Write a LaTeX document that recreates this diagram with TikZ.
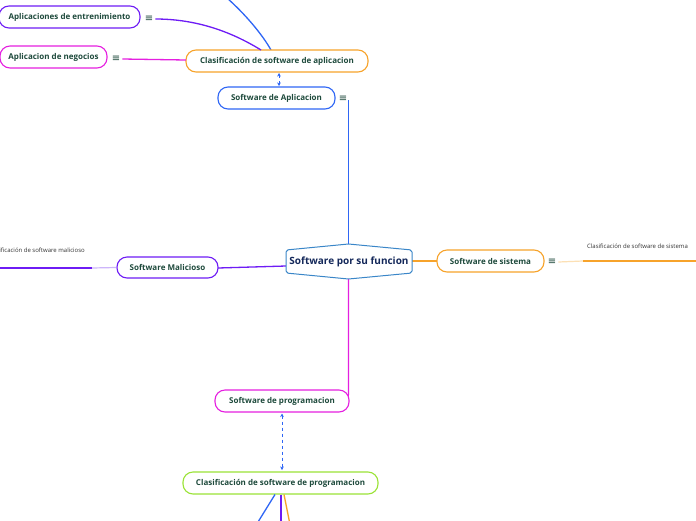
\documentclass[tikz,border=0pt]{standalone}
\usepackage{fontspec}
\setmainfont{Open Sans}
\newfontfamily\symfont{DejaVu Sans}
\usetikzlibrary{arrows.meta}
\definecolor{txtc}{HTML}{1E4A3C}
\definecolor{navy}{HTML}{14285A}
\definecolor{cblue}{HTML}{2F66F5}
\definecolor{lblue}{HTML}{8FB0FF}
\definecolor{corange}{HTML}{F7A32B}
\definecolor{lorange}{HTML}{FCE0B5}
\definecolor{cpurple}{HTML}{6E1CF5}
\definecolor{lpurple}{HTML}{CDB5FA}
\definecolor{cmagenta}{HTML}{E51FE0}
\definecolor{clime}{HTML}{9BE337}
\definecolor{cenblue}{HTML}{3A86C8}
\tikzset{
  topic/.style={draw, line width=1.1pt, rounded corners=10pt, fill=white, text=txtc,
    font=\fontsize{8}{9}\selectfont\bfseries, inner sep=0pt, minimum height=22pt},
  menuicon/.style={text=txtc, font=\symfont\fontsize{10}{10}\selectfont, inner sep=0pt},
  conn/.style={line width=1.3pt},
  dasharrow/.style={draw=cblue, dashed, line width=0.8pt, {Stealth[length=3.5pt,width=3.5pt]}-{Stealth[length=3.5pt,width=3.5pt]}},
  smalllabel/.style={font=\fontsize{6}{7}\selectfont, text=black!80, inner sep=0pt}
}
\begin{document}
\begin{tikzpicture}[x=1pt,y=-1pt]
\useasboundingbox (0,0) rectangle (696,520);
\fill[white] (0,0) rectangle (696,520);

% coordinates
\coordinate (ctop) at (348.5,244);
\coordinate (cbot) at (348.5,279);
\coordinate (cleft) at (286,266);
\coordinate (cright) at (412,261);

% connectors (drawn first)
\draw[conn, cblue] (ctop) -- (348.5,112) -- (348.5,100);
\draw[conn, cblue] (227,-2) .. controls (245,14) and (262,34) .. (271,50);
\draw[conn, cmagenta] (cbot) -- (348.5,392) .. controls (348.5,396) .. (346,399);
\draw[conn, cpurple] (cleft) -- (218,268);
\draw[conn, corange] (cright) -- (437,261);

% central node
\draw[cenblue, line width=1pt, fill=white, rounded corners=2pt]
  (286,250) -- (348.5,244) -- (412,250) -- (412,273) -- (348.5,279) -- (286,273) -- cycle;
\node[text=navy, font=\fontsize{10}{11}\selectfont\bfseries] (central) at (349,261.5) {Software por su funcion};

% topics
\node[topic, draw=cblue, minimum width=117pt] (app) at (276.5,98) {Software de Aplicacion};
\node[topic, draw=corange, minimum width=182pt] (clasapp) at (277,61) {Clasificación de software de aplicacion};
\node[topic, draw=cpurple, minimum width=141pt] (ent) at (69.5,17) {Aplicaciones de entrenimiento};
\node[topic, draw=cmagenta, minimum width=107pt] (neg) at (53.5,57) {Aplicacion de negocios};
\node[topic, draw=cpurple, minimum width=101pt, minimum height=21pt] (mal) at (167.5,267.5) {Software Malicioso};
\node[topic, draw=corange, minimum width=107pt] (sis) at (490.5,261) {Software de sistema};
\node[topic, draw=cmagenta, minimum width=134pt] (prog) at (282,401) {Software de programacion};
\node[topic, draw=clime, minimum width=195pt] (clasprog) at (280.5,483) {Clasificación de software de programacion};

% menu icons
\node[menuicon] (appicon) at (343,99) {≡};
\node[menuicon] (enticon) at (149,19) {≡};
\node[menuicon] (negicon) at (116,59) {≡};
\node[menuicon] (sisicon) at (552,262) {≡};

% icon connectors
\draw[conn, cpurple] (enticon.east) ++(2,0) .. controls (200,19) and (235,34) .. (261,50);
\draw[conn, cmagenta] (negicon.east) ++(2,0) -- (186,60);
\draw[line width=1.2pt, lorange] (sisicon.east) ++(2,0) -- (583,261);
\coordinate (sisend) at (696,261);
\draw[line width=1.6pt, corange] (583,261) -- (sisend);
\node[smalllabel] (sislab) at (637.5,246) {Clasificación de software de sistema};

% malicioso left
\draw[line width=1.2pt, lpurple] (mal.west) -- (92,268);
\coordinate (malend) at (0,268);
\draw[line width=1.6pt, cpurple] (92,268) -- (malend);
\node[smalllabel, anchor=east] (mallab) at (85,250.5) {ificación de software malicioso};

% dashed arrows
\draw[dasharrow] (279,73) -- (279,86);
\draw[dasharrow] (282,413.5) -- (282,470);

% bottom lines
\draw[conn, cblue] (275,494.5) -- (258,522);
\draw[conn, cpurple] (281,494.5) -- (281,522);
\draw[conn, corange] (284,494.5) -- (289.5,522);
\end{tikzpicture}
\end{document}
